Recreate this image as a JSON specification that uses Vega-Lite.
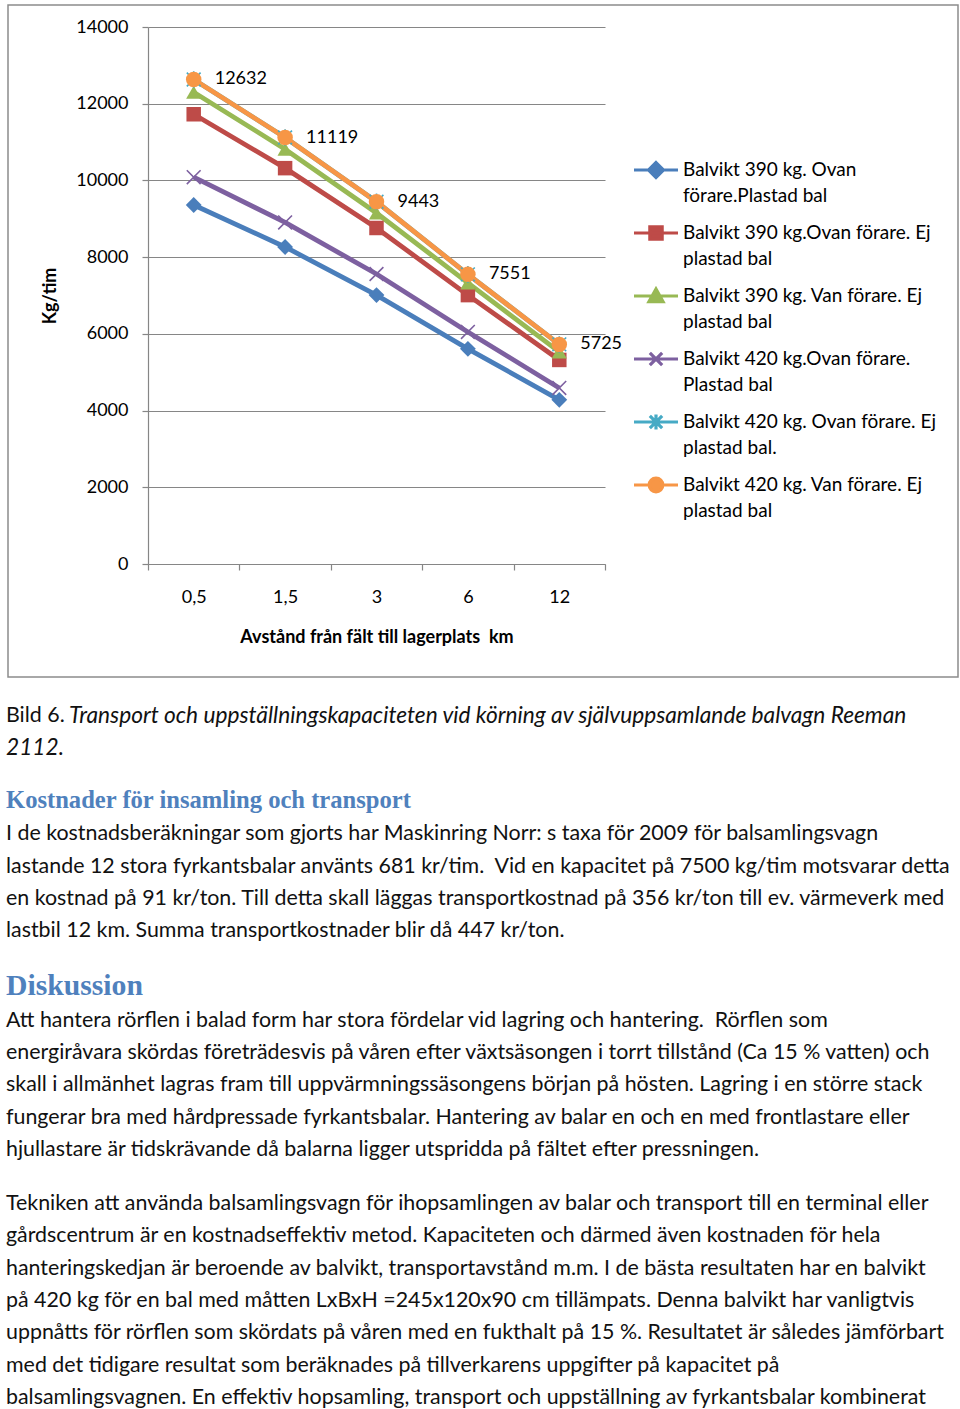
{
  "$schema": "https://vega.github.io/schema/vega-lite/v6.json",
  "padding": {"left": 6, "top": 4, "right": 0, "bottom": 0},
  "autosize": {"type": "pad"},
  "config": {
    "view": {"stroke": null},
    "font": "Lato",
    "axis": {"labelFont": "Lato", "titleFont": "Lato", "labelColor": "#000", "titleColor": "#000"},
    "legend": {"labelFont": "Lato"},
    "text": {"font": "Lato"}
  },
  "spacing": 22,
  "vconcat": [
    {
      "width": 950,
      "height": 672,
      "view": {"stroke": "#8c8c8c", "strokeWidth": 1.5},
      "data": {
        "values": [
          {"serie": "Balvikt 390 kg. Ovan förare.Plastad bal", "km": "0,5", "kg": 9360},
          {"serie": "Balvikt 390 kg. Ovan förare.Plastad bal", "km": "1,5", "kg": 8265},
          {"serie": "Balvikt 390 kg. Ovan förare.Plastad bal", "km": "3", "kg": 7010},
          {"serie": "Balvikt 390 kg. Ovan förare.Plastad bal", "km": "6", "kg": 5610},
          {"serie": "Balvikt 390 kg. Ovan förare.Plastad bal", "km": "12", "kg": 4280},
          {"serie": "Balvikt 390 kg.Ovan förare. Ej plastad bal", "km": "0,5", "kg": 11725},
          {"serie": "Balvikt 390 kg.Ovan förare. Ej plastad bal", "km": "1,5", "kg": 10320},
          {"serie": "Balvikt 390 kg.Ovan förare. Ej plastad bal", "km": "3", "kg": 8760},
          {"serie": "Balvikt 390 kg.Ovan förare. Ej plastad bal", "km": "6", "kg": 7010},
          {"serie": "Balvikt 390 kg.Ovan förare. Ej plastad bal", "km": "12", "kg": 5320},
          {"serie": "Balvikt 390 kg. Van förare. Ej plastad bal", "km": "0,5", "kg": 12300},
          {"serie": "Balvikt 390 kg. Van förare. Ej plastad bal", "km": "1,5", "kg": 10815},
          {"serie": "Balvikt 390 kg. Van förare. Ej plastad bal", "km": "3", "kg": 9150},
          {"serie": "Balvikt 390 kg. Van förare. Ej plastad bal", "km": "6", "kg": 7330},
          {"serie": "Balvikt 390 kg. Van förare. Ej plastad bal", "km": "12", "kg": 5530},
          {"serie": "Balvikt 420 kg.Ovan förare. Plastad bal", "km": "0,5", "kg": 10085},
          {"serie": "Balvikt 420 kg.Ovan förare. Plastad bal", "km": "1,5", "kg": 8905},
          {"serie": "Balvikt 420 kg.Ovan förare. Plastad bal", "km": "3", "kg": 7560},
          {"serie": "Balvikt 420 kg.Ovan förare. Plastad bal", "km": "6", "kg": 6050},
          {"serie": "Balvikt 420 kg.Ovan förare. Plastad bal", "km": "12", "kg": 4590},
          {"serie": "Balvikt 420 kg. Ovan förare. Ej plastad bal.", "km": "0,5", "kg": 12632},
          {"serie": "Balvikt 420 kg. Ovan förare. Ej plastad bal.", "km": "1,5", "kg": 11119},
          {"serie": "Balvikt 420 kg. Ovan förare. Ej plastad bal.", "km": "3", "kg": 9443},
          {"serie": "Balvikt 420 kg. Ovan förare. Ej plastad bal.", "km": "6", "kg": 7551},
          {"serie": "Balvikt 420 kg. Ovan förare. Ej plastad bal.", "km": "12", "kg": 5725},
          {"serie": "Balvikt 420 kg. Van förare. Ej plastad bal", "km": "0,5", "kg": 12632},
          {"serie": "Balvikt 420 kg. Van förare. Ej plastad bal", "km": "1,5", "kg": 11119},
          {"serie": "Balvikt 420 kg. Van förare. Ej plastad bal", "km": "3", "kg": 9443},
          {"serie": "Balvikt 420 kg. Van förare. Ej plastad bal", "km": "6", "kg": 7551},
          {"serie": "Balvikt 420 kg. Van förare. Ej plastad bal", "km": "12", "kg": 5725}
        ]
      },
      "encoding": {
        "x": {
          "field": "km", "type": "ordinal", "bandPosition": 0.5,
          "scale": {"type": "band", "domain": ["0,5", "1,5", "3", "6", "12"], "range": [140, 597], "paddingInner": 0, "paddingOuter": 0},
          "axis": {
            "offset": -113, "tickBand": "extent", "labelAngle": 0, "tickSize": 6, "tickColor": "#868686", "tickWidth": 1.2,
            "domainColor": "#868686", "domainWidth": 1.2, "labelPadding": 18, "labelFontSize": 18,
            "title": "Avstånd från fält till lagerplats\u00a0 km", "titleFontSize": 18, "titleFontWeight": "bold", "titlePadding": 22, "grid": false
          }
        },
        "y": {
          "field": "kg", "type": "quantitative",
          "scale": {"domain": [0, 14000], "range": [559, 22], "nice": false, "zero": true},
          "axis": {
            "offset": -140, "values": [0, 2000, 4000, 6000, 8000, 10000, 12000, 14000], "format": "d",
            "grid": true, "gridColor": "#868686", "gridWidth": 1.2, "domainColor": "#868686", "domainWidth": 1.2,
            "tickColor": "#868686", "tickSize": 6, "tickWidth": 1.2, "labelFontSize": 18, "labelPadding": 14,
            "title": "Kg/tim", "titleFontSize": 18, "titleFontWeight": "bold", "titlePadding": 16
          }
        },
        "color": {
          "field": "serie", "type": "nominal",
          "scale": {
            "domain": ["Balvikt 390 kg. Ovan förare.Plastad bal", "Balvikt 390 kg.Ovan förare. Ej plastad bal", "Balvikt 390 kg. Van förare. Ej plastad bal", "Balvikt 420 kg.Ovan förare. Plastad bal", "Balvikt 420 kg. Ovan förare. Ej plastad bal.", "Balvikt 420 kg. Van förare. Ej plastad bal"],
            "range": ["#4A7EBB", "#BE4B48", "#98B954", "#7D60A0", "#46AAC5", "#F79646"]
          },
          "legend": {
            "orient": "none", "legendX": 624, "legendY": 141, "title": null, "padding": 0,
            "labelFontSize": 19, "labelColor": "#000", "labelLimit": 400, "labelOffset": 3,
            "symbolSize": 1936, "rowPadding": 3,
            "labelExpr": "[['Balvikt 390 kg. Ovan','förare.Plastad bal'],['Balvikt 390 kg.Ovan förare. Ej','plastad bal'],['Balvikt 390 kg. Van förare. Ej','plastad bal'],['Balvikt 420 kg.Ovan förare.','Plastad bal'],['Balvikt 420 kg. Ovan förare. Ej','plastad bal.'],['Balvikt 420 kg. Van förare. Ej','plastad bal']][indexof(domain('color'), datum.value)]",
            "encode": {
              "symbols": {
                "update": {
                  "shape": {"signal": "['M-1,0L1,0M0,-0.34L0.34,0L0,0.34L-0.34,0Z','M-1,0L1,0M-0.28,-0.28L0.28,-0.28L0.28,0.28L-0.28,0.28Z','M-1,0L1,0M0,-0.32L0.32,0.26L-0.32,0.26Z','M-1,0L1,0M-0.28,-0.28L0.28,0.28M-0.28,0.28L0.28,-0.28','M-1,0L1,0M-0.28,-0.28L0.28,0.28M-0.28,0.28L0.28,-0.28M0,-0.34L0,0.34','M-1,0L1,0M-0.31,0A0.31,0.31,0,1,0,0.31,0A0.31,0.31,0,1,0,-0.31,0Z'][indexof(domain('color'), datum.value)]"},
                  "fill": {"signal": "scale('color', datum.value)"},
                  "stroke": {"signal": "scale('color', datum.value)"},
                  "strokeWidth": {"value": 3.2},
                  "opacity": {"value": 1}
                }
              },
              "labels": {"update": {"lineHeight": {"value": 26}}}
            }
          }
        }
      },
      "layer": [
        {"mark": {"type": "line", "strokeWidth": 4.8}},
        {
          "transform": [{"filter": {"field": "serie", "equal": "Balvikt 390 kg. Ovan förare.Plastad bal"}}],
          "mark": {"type": "point", "shape": "diamond", "size": 250, "filled": true, "opacity": 1}
        },
        {
          "transform": [{"filter": {"field": "serie", "equal": "Balvikt 390 kg.Ovan förare. Ej plastad bal"}}],
          "mark": {"type": "point", "shape": "square", "size": 210, "filled": true, "opacity": 1}
        },
        {
          "transform": [{"filter": {"field": "serie", "equal": "Balvikt 390 kg. Van förare. Ej plastad bal"}}],
          "mark": {"type": "point", "shape": "triangle-up", "size": 230, "filled": true, "opacity": 1}
        },
        {
          "transform": [{"filter": {"field": "serie", "equal": "Balvikt 420 kg.Ovan förare. Plastad bal"}}],
          "mark": {"type": "point", "shape": "M-1,-1L1,1M-1,1L1,-1", "size": 190, "filled": false, "strokeWidth": 1.6, "opacity": 1}
        },
        {
          "transform": [{"filter": {"field": "serie", "equal": "Balvikt 420 kg. Ovan förare. Ej plastad bal."}}],
          "mark": {"type": "point", "shape": "M-1,-1L1,1M-1,1L1,-1M0,-1.2L0,1.2", "size": 190, "filled": false, "strokeWidth": 1.6, "opacity": 1}
        },
        {
          "transform": [{"filter": {"field": "serie", "equal": "Balvikt 420 kg. Van förare. Ej plastad bal"}}],
          "mark": {"type": "point", "shape": "circle", "size": 240, "filled": true, "opacity": 1}
        },
        {
          "transform": [{"filter": {"field": "serie", "equal": "Balvikt 420 kg. Van förare. Ej plastad bal"}}],
          "mark": {"type": "text", "align": "left", "baseline": "middle", "dx": 21, "fontSize": 18},
          "encoding": {
            "text": {"field": "kg", "type": "quantitative", "format": "d"},
            "color": {"value": "#000"}
          }
        }
      ]
    },
    {
      "width": 950,
      "height": 64.6,
      "layer": [
        {
          "data": {"values": [{"rad": 0, "text": "Bild 6."}]},
          "mark": {"type": "text", "align": "left", "baseline": "middle", "fontSize": 21.4, "dx": -2, "color": "#111"},
          "encoding": {
            "y": {"field": "rad", "type": "ordinal", "scale": {"type": "point", "domain": [0, 1], "padding": 0.5}, "axis": null},
            "x": {"value": 0},
            "text": {"field": "text"}
          }
        },
        {
          "data": {"values": [{"rad": 0, "text": "Transport och uppställningskapaciteten vid körning av självuppsamlande balvagn Reeman"}]},
          "mark": {"type": "text", "align": "left", "baseline": "middle", "fontSize": 22.7, "fontStyle": "italic", "dx": 61, "color": "#111"},
          "encoding": {
            "y": {"field": "rad", "type": "ordinal", "scale": {"type": "point", "domain": [0, 1], "padding": 0.5}, "axis": null},
            "x": {"value": 0},
            "text": {"field": "text"}
          }
        },
        {
          "data": {"values": [{"rad": 1, "text": "2112."}]},
          "mark": {"type": "text", "align": "left", "baseline": "middle", "fontSize": 22.7, "fontStyle": "italic", "dx": -2, "color": "#111"},
          "encoding": {
            "y": {"field": "rad", "type": "ordinal", "scale": {"type": "point", "domain": [0, 1], "padding": 0.5}, "axis": null},
            "x": {"value": 0},
            "text": {"field": "text"}
          }
        }
      ]
    },
    {
      "width": 950,
      "height": 161.5,
      "layer": [
        {
          "data": {"values": [{"rad": 0, "text": "Kostnader för insamling och transport"}]},
          "mark": {"type": "text", "align": "left", "baseline": "middle", "font": "Liberation Serif", "fontSize": 24.6, "fontWeight": "bold", "dx": -2, "dy": -2, "color": "#4F81BD"},
          "encoding": {
            "y": {"field": "rad", "type": "ordinal", "scale": {"type": "point", "domain": [0, 1, 2, 3, 4], "padding": 0.5}, "axis": null},
            "x": {"value": 0},
            "text": {"field": "text"}
          }
        },
        {
          "data": {"values": [
            {"rad": 1, "text": "I de kostnadsberäkningar som gjorts har Maskinring Norr: s taxa för 2009 för balsamlingsvagn"},
            {"rad": 2, "text": "lastande 12 stora fyrkantsbalar använts 681 kr/tim.\u00a0 Vid en kapacitet på 7500 kg/tim motsvarar detta"},
            {"rad": 3, "text": "en kostnad på 91 kr/ton. Till detta skall läggas transportkostnad på 356 kr/ton till ev. värmeverk med"},
            {"rad": 4, "text": "lastbil 12 km. Summa transportkostnader blir då 447 kr/ton."}
          ]},
          "mark": {"type": "text", "align": "left", "baseline": "middle", "fontSize": 21.4, "dx": -2, "dy": -1, "color": "#111"},
          "encoding": {
            "y": {"field": "rad", "type": "ordinal", "scale": {"type": "point", "domain": [0, 1, 2, 3, 4], "padding": 0.5}, "axis": null},
            "x": {"value": 0},
            "text": {"field": "text"}
          }
        }
      ]
    },
    {
      "width": 950,
      "height": 194,
      "layer": [
        {
          "data": {"values": [{"rad": 0, "text": "Diskussion"}]},
          "mark": {"type": "text", "align": "left", "baseline": "middle", "font": "Liberation Serif", "fontSize": 29.7, "fontWeight": "bold", "dx": -2, "dy": -2, "color": "#4F81BD"},
          "encoding": {
            "y": {"field": "rad", "type": "ordinal", "scale": {"type": "point", "domain": [0, 1, 2, 3, 4, 5], "padding": 0.5}, "axis": null},
            "x": {"value": 0},
            "text": {"field": "text"}
          }
        },
        {
          "data": {"values": [
            {"rad": 1, "text": "Att hantera rörflen i balad form har stora fördelar vid lagring och hantering.\u00a0 Rörflen som"},
            {"rad": 2, "text": "energiråvara skördas företrädesvis på våren efter växtsäsongen i torrt tillstånd (Ca 15 % vatten) och"},
            {"rad": 3, "text": "skall i allmänhet lagras fram till uppvärmningssäsongens början på hösten. Lagring i en större stack"},
            {"rad": 4, "text": "fungerar bra med hårdpressade fyrkantsbalar. Hantering av balar en och en med frontlastare eller"},
            {"rad": 5, "text": "hjullastare är tidskrävande då balarna ligger utspridda på fältet efter pressningen."}
          ]},
          "mark": {"type": "text", "align": "left", "baseline": "middle", "fontSize": 21.4, "dx": -2, "color": "#111"},
          "encoding": {
            "y": {"field": "rad", "type": "ordinal", "scale": {"type": "point", "domain": [0, 1, 2, 3, 4, 5], "padding": 0.5}, "axis": null},
            "x": {"value": 0},
            "text": {"field": "text"}
          }
        }
      ]
    },
    {
      "width": 950,
      "height": 226,
      "data": {"values": [
        {"rad": 0, "text": "Tekniken att använda balsamlingsvagn för ihopsamlingen av balar och transport till en terminal eller"},
        {"rad": 1, "text": "gårdscentrum är en kostnadseffektiv metod. Kapaciteten och därmed även kostnaden för hela"},
        {"rad": 2, "text": "hanteringskedjan är beroende av balvikt, transportavstånd m.m. I de bästa resultaten har en balvikt"},
        {"rad": 3, "text": "på 420 kg för en bal med måtten LxBxH =245x120x90 cm tillämpats. Denna balvikt har vanligtvis"},
        {"rad": 4, "text": "uppnåtts för rörflen som skördats på våren med en fukthalt på 15 %. Resultatet är således jämförbart"},
        {"rad": 5, "text": "med det tidigare resultat som beräknades på tillverkarens uppgifter på kapacitet på"},
        {"rad": 6, "text": "balsamlingsvagnen. En effektiv hopsamling, transport och uppställning av fyrkantsbalar kombinerat"}
      ]},
      "mark": {"type": "text", "align": "left", "baseline": "middle", "fontSize": 21.4, "dx": -2, "color": "#111"},
      "encoding": {
        "y": {"field": "rad", "type": "ordinal", "scale": {"type": "point", "padding": 0.5}, "axis": null},
        "x": {"value": 0},
        "text": {"field": "text"}
      }
    }
  ]
}
